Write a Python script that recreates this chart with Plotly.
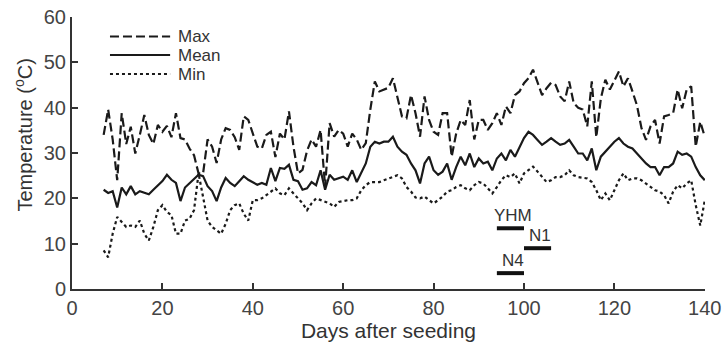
import plotly.graph_objects as go

days = list(range(7, 141))

t_max = [
    34, 39.6, 33, 24, 38.8, 32, 35.8, 29.9, 34, 38.4,
    34, 32, 36.2, 34.7, 36, 33.5, 38.8, 33.3, 33, 31,
    29.5, 25.5, 25.5, 33, 31.4, 27.8, 33, 35.5, 35.1, 33.5,
    30.7, 38.1, 37.3, 34.3, 31.4, 31, 34, 34.7, 29.1, 34.3,
    33, 39.2, 31.4, 25.5, 26.3, 30.5, 33, 31.4, 35.1, 22.6,
    36.6, 33.6, 35.1, 34.3, 31.4, 34.3, 33, 30.7, 32.2, 39.6,
    45.8, 43.6, 44, 44.4, 46.5, 42.5, 38.1, 37.7, 42.8, 38.8,
    33.6, 42.5, 37.3, 34.7, 34, 38.8, 38.8, 29.2, 34.3, 37.3,
    36.2, 41.7, 33, 37.3, 37.3, 35.1, 36.6, 38.8, 36.2, 40.3,
    38.8, 42.8, 43.6, 45.4, 46.5, 48.4, 45.4, 42.8, 44.3, 45.5,
    45, 42.5, 41.4, 45.8, 41, 40, 39.6, 35.9, 45.8, 33.5,
    42, 46.2, 44, 46, 48, 44.7, 46.5, 43.6, 40.5, 35.5,
    32.9, 35.9, 37.3, 32.1, 38.1, 38.4, 38.8, 44, 39.9, 44,
    44.7, 31.4, 36.9, 33.6,
]

t_mean = [
    21.9, 21.2, 21.6, 18, 22.4, 20.9, 22.7, 20.9, 21.6, 21.2,
    20.9, 21.9, 22.8, 23.8, 25.2, 24.1, 23.4, 19.4, 22.4, 23.4,
    24.3, 25.2, 24.9, 22.7, 21.6, 19.4, 22.4, 24.5, 23.4, 22.7,
    23.8, 24.9, 24.1, 23.5, 23, 23.4, 23, 26.7, 23.8, 26.7,
    26.5, 27.4, 24.1, 23.8, 21.9, 22.2, 23.6, 22.9, 26.2, 21.9,
    25.2, 24.1, 24.4, 24.8, 24.1, 26.2, 23.6, 25.5, 27.7, 31.4,
    32.5, 32.1, 32.5, 32.5, 33.6, 31.4, 30.3, 29.6, 27.7, 26.2,
    23.3, 27.7, 29.2, 26.2, 25.2, 25.9, 27.7, 24.1, 26.9, 29.2,
    27.3, 29.9, 26.9, 28.8, 27.7, 28.1, 26.2, 28.8, 29.9, 28.4,
    30.7, 29.2, 31.2, 33.3, 34.7, 34, 32.9, 31.8, 32.5, 33.3,
    32.5, 31.8, 32.1, 32.9, 31.4, 29.9, 29.9, 28.4, 31, 26.2,
    29.2, 30.3, 31.4, 32.5, 33.3, 32.1, 31.4, 31, 29.9, 28.8,
    27.7, 26.9, 26.9, 25.1, 26.9, 26.9, 27.7, 30.3, 29.6, 29.9,
    29.2, 26.9, 25.1, 24,
]

t_min = [
    8.5, 7.0, 12.2, 15.9, 14.8, 13.7, 14, 13.7, 15.1, 12.2,
    10.7, 13.7, 17.4, 18.5, 17, 16.3, 12.2, 12.2, 15.1, 15.5,
    17.4, 25.5, 20.3, 15.1, 13.7, 12.9, 12.2, 14.4, 17.4, 18.5,
    18.9, 16.6, 15.1, 19.6, 19.6, 20, 20.7, 21.5, 22.2, 21.1,
    20.7, 22.2, 21.1, 20, 18.9, 17.4, 18.9, 20, 19.6, 19.2,
    18.9, 18.1, 19.2, 19.4, 19.6, 19.6, 20, 21.8, 22.9, 23.6,
    23.6, 23.6, 24, 24.4, 24.7, 25.1, 24.4, 22.5, 21.5, 20.2,
    20, 20.4, 19.6, 18.9, 19.6, 20.4, 21.5, 21.8, 22.5, 22.9,
    22.2, 21.8, 22.9, 23.6, 23.3, 22.2, 21.1, 22.5, 24, 25.1,
    24.7, 25.5, 23.3, 25.5, 26.2, 27, 25.9, 24.7, 23.6, 24,
    24.7, 24.7, 25.1, 26.2, 25.1, 24.7, 24.5, 24.4, 23.6, 21.8,
    19.6, 21.1, 19.6, 21.8, 24, 25.5, 24, 24.4, 24.4, 24,
    23.2, 22.5, 21.8, 21.5, 20.7, 18.9, 21.5, 22.9, 22.2, 23.3,
    24, 18.5, 14, 19.6,
]

series_names = ["Max", "Mean", "Min"]
series_dash = ["9px,4px", "solid", "dot"]

stage_labels = ["YHM", "N1", "N4"]
stage_start = [94, 100, 94]
stage_end = [100, 106, 100]
stage_y = [13.4, 9.0, 3.5]

x_ticks = [0, 20, 40, 60, 80, 100, 120, 140]
y_ticks = [0, 10, 20, 30, 40, 50, 60]

FONT = "Liberation Sans, Arial, sans-serif"
INK = "#1a1a1a"

fig = go.Figure()
for name, vals, dash in zip(series_names, [t_max, t_mean, t_min], series_dash):
    fig.add_trace(go.Scatter(
        x=days, y=vals, mode="lines", name=name,
        line=dict(color=INK, width=2.2, dash=dash),
        showlegend=False,
    ))

# custom legend (long line samples like the original)
leg_y = [0.928, 0.860, 0.790]
for name, dash, ly in zip(series_names, series_dash, leg_y):
    fig.add_shape(type="line", xref="paper", yref="paper",
                  x0=0.060, x1=0.155, y0=ly, y1=ly,
                  line=dict(color=INK, width=2, dash=dash))
    fig.add_annotation(xref="paper", yref="paper", x=0.164, y=ly,
                       text=name, showarrow=False, xanchor="left", yanchor="middle",
                       font=dict(family=FONT, size=17, color="#333"))

# growth stage bars
for lab, s, e, yv in zip(stage_labels, stage_start, stage_end, stage_y):
    fig.add_shape(type="line", xref="x", yref="y", x0=s, x1=e, y0=yv, y1=yv,
                  line=dict(color="#111", width=4))
    fig.add_annotation(x=(s + e) / 2 + 0.5, y=yv, text=lab, showarrow=False,
                       yanchor="bottom", yshift=1,
                       font=dict(family=FONT, size=17, color="#333"))

# y-axis title placed like the original
fig.add_annotation(xref="paper", yref="paper", x=-0.077, y=0.565,
                   text="Temperature (<sup>o</sup>C)", textangle=-90,
                   showarrow=False, xanchor="center", yanchor="middle",
                   font=dict(family=FONT, size=20, color="#333"))

axis_common = dict(
    showline=True, linecolor="#333", linewidth=2,
    ticks="inside", ticklen=6, tickwidth=1.5, tickcolor="#333",
    showgrid=False, zeroline=False, automargin=False,
    tickfont=dict(family=FONT, size=20, color="#444"),
)

fig.update_layout(
    width=722, height=349,
    margin=dict(l=72, r=17, t=17, b=60),
    paper_bgcolor="white", plot_bgcolor="white",
    xaxis=dict(range=[0, 140.05], tickvals=x_ticks,
               title=dict(text="Days after seeding", standoff=4,
                          font=dict(family=FONT, size=21, color="#333")),
               **axis_common),
    yaxis=dict(range=[0, 60.02], tickvals=y_ticks, **axis_common),
)

fig.write_html("out.html")
